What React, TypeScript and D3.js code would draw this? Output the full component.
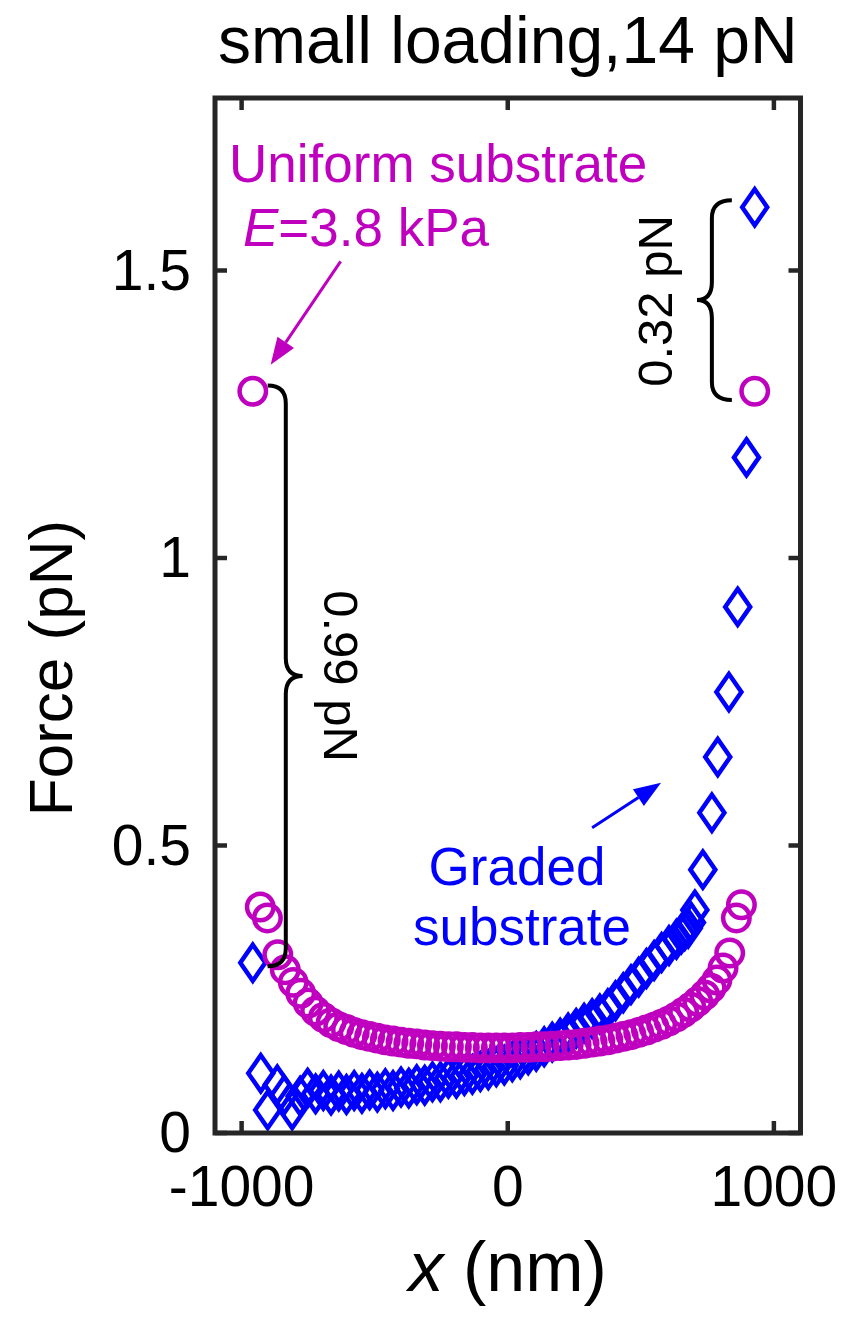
import React from 'react';
import * as d3 from 'd3';

// ---- data ----
const uniformX = [-958, -930, -903, -864, -836, -806, -778, -750, -722, -693, -664, -635, -606, -577, -548, -519, -490, -460, -431, -401, -372, -342, -312, -283, -253, -223, -193, -163, -133, -103, -73, -43, -13, 17, 47, 77, 107, 137, 167, 197, 227, 257, 287, 317, 346, 376, 405, 434, 463, 492, 521, 550, 578, 606, 634, 661, 688, 714, 740, 764, 786, 809, 834, 859, 878, 928];
const uniformF = [1.29, 0.393, 0.374, 0.31, 0.284, 0.262, 0.243, 0.226, 0.212, 0.201, 0.192, 0.185, 0.18, 0.175, 0.171, 0.168, 0.165, 0.162, 0.16, 0.158, 0.156, 0.155, 0.153, 0.152, 0.151, 0.15, 0.15, 0.149, 0.149, 0.148, 0.148, 0.148, 0.148, 0.148, 0.149, 0.149, 0.15, 0.15, 0.151, 0.152, 0.153, 0.154, 0.156, 0.158, 0.16, 0.162, 0.165, 0.168, 0.171, 0.175, 0.179, 0.184, 0.189, 0.195, 0.202, 0.21, 0.219, 0.229, 0.24, 0.252, 0.266, 0.287, 0.313, 0.374, 0.397, 1.29];

const gradedX = [-958, -928, -902, -866, -840, -810, -780, -752, -722, -693, -664, -635, -606, -577, -548, -519, -490, -460, -431, -401, -372, -342, -312, -283, -253, -223, -193, -163, -133, -103, -73, -43, -13, 17, 47, 77, 107, 137, 167, 197, 227, 257, 287, 317, 346, 376, 405, 434, 463, 492, 521, 550, 578, 606, 634, 652, 665, 678, 690, 703, 733, 767, 789, 831, 864, 897, 928];
const gradedF = [0.296, 0.104, 0.04, 0.084, 0.066, 0.04, 0.064, 0.078, 0.068, 0.074, 0.066, 0.073, 0.067, 0.074, 0.069, 0.075, 0.071, 0.077, 0.074, 0.08, 0.078, 0.084, 0.083, 0.089, 0.089, 0.095, 0.095, 0.1, 0.102, 0.107, 0.11, 0.115, 0.118, 0.124, 0.129, 0.136, 0.142, 0.15, 0.158, 0.165, 0.174, 0.182, 0.191, 0.199, 0.207, 0.216, 0.23, 0.244, 0.258, 0.271, 0.286, 0.3, 0.314, 0.326, 0.337, 0.346, 0.352, 0.356, 0.366, 0.388, 0.458, 0.557, 0.654, 0.767, 0.915, 1.175, 1.61];

const xTicks = [-1000, 0, 1000];
const yTicks = [0, 0.5, 1, 1.5];

const W = 854, H = 1331;
const left = 215, right = 800.5, top = 98, bottom = 1133;
const magenta = '#BF00BF';
const blue = '#0000FF';
const axisCol = '#262626';
const font = '"Liberation Sans", Arial, Helvetica, sans-serif';

export default function App() {
  const x = d3.scaleLinear().domain([-1100, 1100]).range([left, right]);
  const y = d3.scaleLinear().domain([0, 1.8]).range([bottom, top]);

  const uniform = uniformX.map((v, i) => ({ x: v, f: uniformF[i] }));
  const graded = gradedX.map((v, i) => ({ x: v, f: gradedF[i] }));
  const diamond = 'M0,-18L12.5,0L0,18L-12.5,0Z';
  const tick = 12;

  // curly brace: ends at xe, spine at xs, tip at xt, from y0 to y1
  const brace = (xe: number, xs: number, xt: number, y0: number, y1: number) => {
    const ym = (y0 + y1) / 2;
    const r = 18 * Math.sign(y1 - y0);
    return `M${xe},${y0} Q${xs},${y0} ${xs},${y0 + r} L${xs},${ym - r} Q${xs},${ym} ${xt},${ym} Q${xs},${ym} ${xs},${ym + r} L${xs},${y1 - r} Q${xs},${y1} ${xe},${y1}`;
  };

  const arrow = (x0: number, y0: number, x1: number, y1: number, col: string) => {
    const a = Math.atan2(y1 - y0, x1 - x0);
    const L = 27, w = 10;
    const bx = x1 - L * Math.cos(a), by = y1 - L * Math.sin(a);
    const px = -Math.sin(a) * w, py = Math.cos(a) * w;
    return (
      <g>
        <line x1={x0} y1={y0} x2={bx} y2={by} stroke={col} strokeWidth={3} />
        <path d={`M${x1},${y1}L${bx + px},${by + py}L${bx - px},${by - py}Z`} fill={col} />
      </g>
    );
  };

  return (
    <svg width={W} height={H} style={{ position: 'absolute', left: 0, top: 0, background: '#fff' }} fontFamily={font}>
      {/* title */}
      <text x={(left + right) / 2} y={63} fontSize={66} textAnchor="middle">small loading,14 pN</text>

      {/* data: graded first, uniform on top */}
      <g fill="none" stroke={blue} strokeWidth={4.5}>
        {graded.map((d, i) => (
          <path key={i} d={diamond} transform={`translate(${x(d.x)},${y(d.f)})`} />
        ))}
      </g>
      <g fill="none" stroke={magenta} strokeWidth={4.5}>
        {uniform.map((d, i) => (
          <circle key={i} cx={x(d.x)} cy={y(d.f)} r={13.2} />
        ))}
      </g>

      {/* frame and ticks */}
      <rect x={left} y={top} width={right - left} height={bottom - top} fill="none" stroke={axisCol} strokeWidth={5} />
      <g stroke={axisCol} strokeWidth={4.5}>
        {xTicks.map(t => (
          <g key={t}>
            <line x1={x(t)} x2={x(t)} y1={bottom} y2={bottom - tick} />
            <line x1={x(t)} x2={x(t)} y1={top} y2={top + tick} />
          </g>
        ))}
        {yTicks.map(t => (
          <g key={t}>
            <line x1={left} x2={left + tick} y1={y(t)} y2={y(t)} />
            <line x1={right} x2={right - tick} y1={y(t)} y2={y(t)} />
          </g>
        ))}
      </g>
      <g fontSize={57} fill="#000">
        {xTicks.map(t => (
          <text key={t} x={x(t)} y={1206} textAnchor="middle">{t}</text>
        ))}
        {yTicks.map(t => (
          <text key={t} x={191} y={y(t) + 19} textAnchor="end">{t}</text>
        ))}
      </g>

      {/* axis labels */}
      <text transform="translate(72,668) rotate(-90)" fontSize={62} textAnchor="middle">Force (pN)</text>
      <text x={(left + right) / 2} y={1291} fontSize={70} textAnchor="middle">
        <tspan fontStyle="italic">x</tspan> (nm)
      </text>

      {/* annotations */}
      <text x={229} y={182} fontSize={53} fill={magenta}>Uniform substrate</text>
      <text x={243} y={246} fontSize={53} fill={magenta}>
        <tspan fontStyle="italic">E</tspan>=3.8 kPa
      </text>
      {arrow(x(-628), y(1.516), x(-891), y(1.336), magenta)}

      <text x={517} y={885} fontSize={53} fill={blue} textAnchor="middle">Graded</text>
      <text x={522} y={945} fontSize={53} fill={blue} textAnchor="middle">substrate</text>
      {arrow(x(317), y(0.531), x(576), y(0.609), blue)}

      <g fill="none" stroke="#000" strokeWidth={4}>
        <path d={brace(x(-902), x(-834), x(-771), y(1.30), y(0.29))} />
        <path d={brace(x(842), x(767), x(711), y(1.622), y(1.275))} />
      </g>
      <text transform="translate(324,676) rotate(90)" fontSize={49} textAnchor="middle">0.99 pN</text>
      <text transform="translate(672,301) rotate(-90)" fontSize={49} textAnchor="middle">0.32 pN</text>
    </svg>
  );
}
